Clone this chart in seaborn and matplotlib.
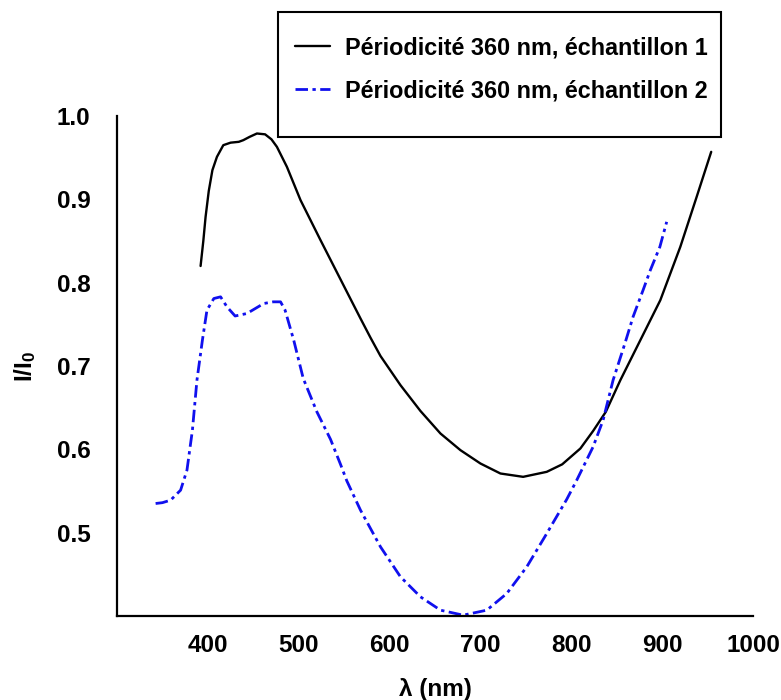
import matplotlib
matplotlib.use("Agg")
import matplotlib.pyplot as plt
from matplotlib.patches import Rectangle
import seaborn as sns
import pandas as pd

# Sample 1: transmission spectrum (wavelength in nm, I/I0)
wl_1 = [392, 395, 397.5, 401, 405, 410, 417, 425, 434, 439, 446, 454, 463, 470,
        476, 487, 502, 524, 553, 568, 579, 590, 612, 634, 656, 678, 700, 722,
        747, 773, 790, 810, 824, 838, 854, 876, 898, 920, 938, 954]
val_1 = [0.820, 0.850, 0.879, 0.910, 0.935, 0.951, 0.965, 0.968, 0.969, 0.971,
         0.975, 0.979, 0.978, 0.972, 0.963, 0.939, 0.899, 0.851, 0.789, 0.757,
         0.734, 0.712, 0.677, 0.646, 0.619, 0.599, 0.583, 0.571, 0.567, 0.573,
         0.582, 0.601, 0.622, 0.645, 0.683, 0.731, 0.779, 0.843, 0.903, 0.957]

# Sample 2: transmission spectrum
wl_2 = [342.5, 350, 359, 370, 377, 383, 388, 394, 399, 406.6, 414, 421, 430,
        443, 461.5, 472, 480, 485, 494.5, 505, 520, 535, 546, 553, 568, 590,
        612, 634, 656, 681, 707, 729, 751, 773, 795, 806, 824, 835, 846, 859,
        868, 879, 887, 897.5, 905]
val_2 = [0.535, 0.536, 0.539, 0.551, 0.575, 0.623, 0.683, 0.731, 0.767, 0.781,
         0.783, 0.771, 0.760, 0.763, 0.775, 0.777, 0.777, 0.767, 0.731, 0.685,
         0.645, 0.612, 0.582, 0.562, 0.527, 0.483, 0.447, 0.423, 0.407, 0.401,
         0.407, 0.427, 0.459, 0.499, 0.540, 0.563, 0.603, 0.635, 0.683, 0.727,
         0.759, 0.791, 0.815, 0.843, 0.873]

label_1 = "Périodicité 360 nm, échantillon 1"
label_2 = "Périodicité 360 nm, échantillon 2"
x_ticks = [400, 500, 600, 700, 800, 900, 1000]
y_ticks = [0.5, 0.6, 0.7, 0.8, 0.9, 1.0]

sns.set_style("white")
plt.rcParams["font.family"] = ["Liberation Sans", "DejaVu Sans"]
plt.rcParams["font.weight"] = "bold"
plt.rcParams["text.color"] = "black"
plt.rcParams["axes.labelcolor"] = "black"
plt.rcParams["mathtext.fontset"] = "custom"
plt.rcParams["mathtext.rm"] = "Liberation Sans:bold"
plt.rcParams["mathtext.bf"] = "Liberation Sans:bold"
plt.rcParams["mathtext.it"] = "Liberation Sans:bold"

df1 = pd.DataFrame({"wl": wl_1, "val": val_1})
df2 = pd.DataFrame({"wl": wl_2, "val": val_2})

fig = plt.figure(figsize=(7.81, 7.0), dpi=100)
ax = fig.add_axes([117 / 781, 1 - 616 / 700, (753 - 117) / 781, (616 - 116) / 700])

sns.lineplot(data=df1, x="wl", y="val", ax=ax, color="black", lw=1.7,
             label=label_1, sort=False)
sns.lineplot(data=df2, x="wl", y="val", ax=ax, color="#1010ee", lw=2.0,
             linestyle=(0, (4.5, 1.6, 1.2, 1.6)), label=label_2, sort=False)

ax.set_xlim(300, 1000)
ax.set_ylim(0.4, 1.0)
ax.set_xticks(x_ticks)
ax.set_yticks(y_ticks)
ax.set_xticklabels([str(t) for t in x_ticks])
ax.set_yticklabels([f"{t:.1f}" for t in y_ticks])

for side in ("top", "right"):
    ax.spines[side].set_visible(False)
for side in ("left", "bottom"):
    ax.spines[side].set_color("black")
    ax.spines[side].set_linewidth(1.6)

ax.tick_params(axis="both", direction="in", length=4, width=1.4, colors="black",
               labelsize=17.5)
ax.tick_params(axis="x", pad=13)
ax.tick_params(axis="y", pad=19)
for lbl in ax.get_xticklabels() + ax.get_yticklabels():
    lbl.set_fontweight("bold")

ax.set_xlabel("λ (nm)", fontsize=17.5, fontweight="bold", labelpad=15,
              color="black")
ax.set_ylabel(r"$\mathregular{I/I_0}$", fontsize=17.5, fontweight="bold",
              color="black")
ax.yaxis.set_label_coords(-0.124, 0.5)

handles, labels = ax.get_legend_handles_labels()
if ax.get_legend() is not None:
    ax.get_legend().remove()

# Legend frame
fig.patches.append(Rectangle((278 / 781, 1 - 137 / 700), (721 - 278) / 781,
                             125 / 700, transform=fig.transFigure,
                             facecolor="white", edgecolor="black", lw=1.5,
                             zorder=4))
leg = fig.legend(handles, labels, loc="upper left",
                 bbox_to_anchor=(295 / 781, 1 - 36.5 / 700),
                 bbox_transform=fig.transFigure, frameon=False,
                 borderpad=0, borderaxespad=0, handlelength=1.5,
                 handletextpad=0.64, labelspacing=0.85,
                 prop={"size": 16.8, "weight": "bold"})
leg.set_zorder(5)
for txt in leg.get_texts():
    txt.set_color("black")

fig.savefig("out.png", dpi=100)
